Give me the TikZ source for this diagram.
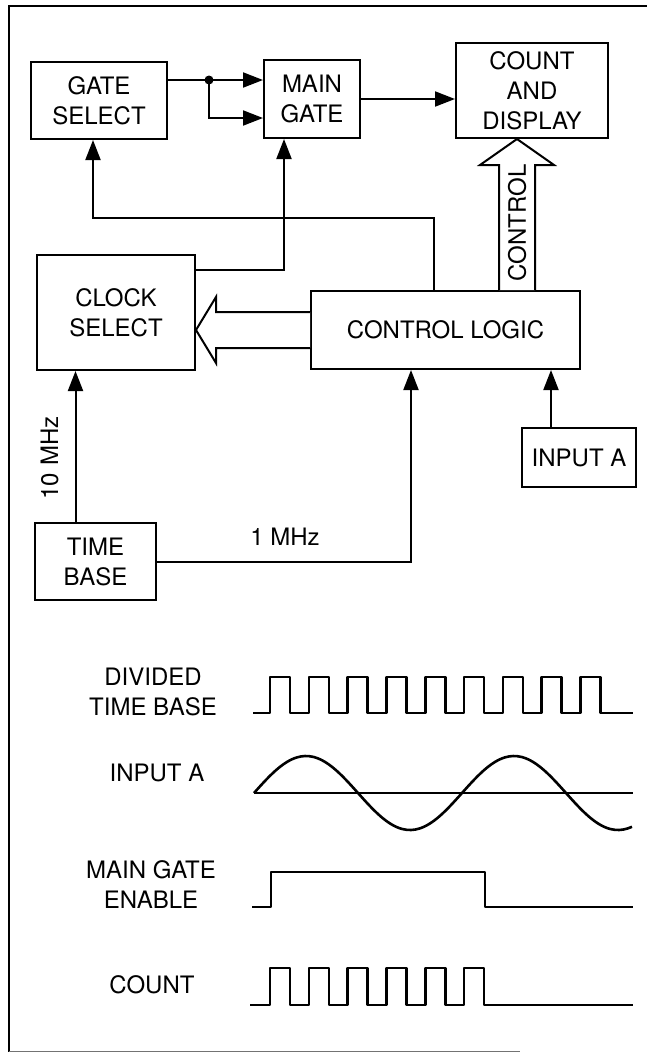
\documentclass[tikz,border=0pt]{standalone}
\usepackage{fontspec}
\setmainfont{TeX Gyre Heros}
\usetikzlibrary{arrows.meta,calc}

\begin{document}
\begin{tikzpicture}[
    x=1pt, y=-1pt,
    every node/.style={font=\fontsize{24}{30}\selectfont},
    blk/.style={draw=black, line width=2pt, align=center, inner sep=0pt},
    sig/.style={line width=2pt},
    sigarr/.style={sig, -{Triangle[length=20pt,width=15pt]}},
    fatarr/.style={line width=2pt, fill=white, line join=miter},
    wave/.style={line width=2.6pt, line join=round},
    lbl/.style={align=center},
]
\useasboundingbox (0,0) rectangle (647,1053);

% ── wave x-positions ─────────────────────────────────────────
\def\xRise{270}   % first rising edge
\def\per{38.8}    % clock period
\def\xEnd{633}

% ── frame ────────────────────────────────────────────────────
\draw[line width=2.5pt] (647,6) -- (9,6) -- (9,1052);
\draw[line width=1pt, black!55] (9,1051) -- (520,1051);

% ════ BLOCKS ═════════════════════════════════════════════════
\node[blk, minimum width=136pt, minimum height=77pt]  (gsel)   at (99,100.5)  {GATE\\SELECT};
\node[blk, minimum width=96pt,  minimum height=78pt]  (mgate)  at (312,99)    {MAIN\\GATE};
\node[blk, minimum width=152pt, minimum height=95pt]  (cdisp)  at (532,90.5)  {COUNT\\AND\\DISPLAY};
\node[blk, minimum width=158pt, minimum height=115pt] (csel)   at (116,312.5) {CLOCK\\SELECT};
\node[blk, minimum width=269pt, minimum height=78pt]  (clogic) at (445.5,330) {CONTROL LOGIC};
\node[blk, minimum width=114pt, minimum height=59pt]  (inA)    at (579,457.5) {INPUT A};
\node[blk, minimum width=121pt, minimum height=77pt]  (tbase)  at (95.5,561.5) {TIME\\BASE};

% ── helper points ────────────────────────────────────────────
\coordinate (jn)   at ($(gsel.east)+(41,-20.5)$);
\coordinate (fb)   at ($(clogic.north)+(-11.5,0)$);
\coordinate (fbG)  at ($(gsel.south)+(-6,78)$);
\coordinate (mgIn) at ($(mgate.south)+(-28,0)$);
\coordinate (csO)  at ($(csel.north east)+(0,16)$);
\coordinate (f10)  at ($(tbase.north)+(-20,0)$);
\coordinate (f1)   at ($(clogic.south)+(-34.5,0)$);
\coordinate (fA)   at ($(inA.north)+(-28,0)$);
\coordinate (ctip) at ($(cdisp.south)+(-15,0)$);
\coordinate (ltip) at (csel.east |- clogic.west);

% ════ CONNECTORS ═════════════════════════════════════════════
% gate select -> main gate (two lines)
\draw[sig] (gsel.east |- jn) -- (jn);
\draw[sigarr] (jn) -- (jn -| mgate.west);
\draw[sigarr] (jn) |- ($(mgate.west)+(0,19)$);
\fill (jn) circle (4.5);

% main gate -> count and display
\draw[sigarr] (mgate.east) -- (mgate.east -| cdisp.west);

% control logic -> gate select
\draw[sigarr] (fb) |- (fbG) -- (fbG |- gsel.south);

% clock select -> main gate
\draw[sigarr] (csO) -| (mgIn);

% time base -> clock select / control logic
\draw[sigarr] (f10) -- (f10 |- csel.south);
\node[rotate=90] (l10) at (49.5,458) {10 MHz};
\draw[sigarr] (tbase.east) -| (f1);
\node (l1) at (285,537) {1 MHz};

% input A -> control logic
\draw[sigarr] (fA) -- (fA |- clogic.south);

% fat arrow: control -> count and display
\draw[fatarr] ($(ctip |- clogic.north)+(-18,0)$) -- ($(ctip)+(-18,26)$)
    -- ($(ctip)+(-37,26)$) -- (ctip) -- ($(ctip)+(37,26)$)
    -- ($(ctip)+(18,26)$) -- ($(ctip |- clogic.north)+(18,0)$);
\node[rotate=90] (ctrlTxt) at ($(ctip)+(0,84)$) {CONTROL};

% fat arrow: control logic -> clock select
\draw[fatarr] ($(clogic.west)+(0,-18)$) -- ($(ltip)+(20,-18)$)
    -- ($(ltip)+(20,-33)$) -- (ltip) -- ($(ltip)+(20,33)$)
    -- ($(ltip)+(20,18)$) -- ($(clogic.west)+(0,18)$);

% ════ TIMING ═════════════════════════════════════════════════
\node[lbl] (lDiv) at (153,692) {DIVIDED\\TIME BASE};
\node[lbl] (lInA) at (157,773) {INPUT A};
\node[lbl] (lEn)  at (151,885) {MAIN GATE\\ENABLE};
\node[lbl] (lCnt) at (152,985) {COUNT};

% divided time base
\draw[wave] (253,713) foreach \k in {0,...,8}{
    -- ({\xRise+\per*\k},713) -- ({\xRise+\per*\k},677)
    -- ({\xRise+20+\per*\k},677) -- ({\xRise+20+\per*\k},713) } -- (\xEnd,713);

% input A
\draw[wave] (254,793) -- (\xEnd,793);
\draw[wave] plot[domain=254:632, samples=90, smooth] (\x,{793-37*sin((\x-254)/104*180)});

% main gate enable
\draw[wave] (252,907) -- (271,907) -- (271,872) -- (485,872) -- (485,907) -- (\xEnd,907);

% count
\draw[wave] (250,1005) foreach \k in {0,...,5}{
    -- ({\xRise+\per*\k},1005) -- ({\xRise+\per*\k},968)
    -- ({\xRise+20+\per*\k},968) -- ({\xRise+20+\per*\k},1005) } -- (\xEnd,1005);

\end{tikzpicture}
\end{document}
